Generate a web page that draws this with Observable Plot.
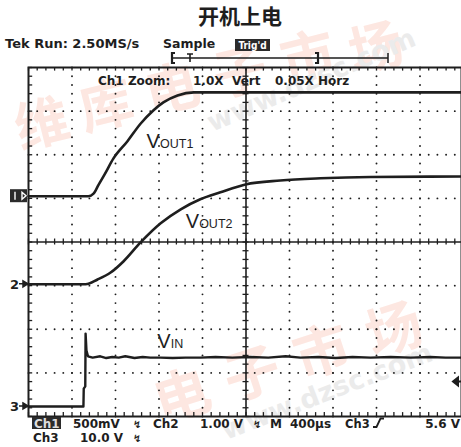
<!DOCTYPE html>
<html>
<head>
<meta charset="utf-8">
<script src="https://cdn.jsdelivr.net/npm/d3@7"></script>
<script src="https://cdn.jsdelivr.net/npm/@observablehq/plot@0.6"></script>
<style>
  html, body { margin: 0; padding: 0; background: #fff; overflow: hidden; }
  #chart svg { display: block; }
</style>
</head>
<body>
<div id="chart"></div>
<script>
// Scope settings: vertical scale and ground marker (in divisions from the bottom edge) per channel
const channels = ["1", "2", "3"];
const voltsPerDiv = [0.5, 1.0, 10.0];
const groundDiv = [5.05, 3.03, 0.23];
const triggerVolts = 5.6;          // Ch3 rising-edge trigger level
const timePerDiv = 400;            // µs

// Traces: time (µs from the left edge of the screen) and level (V)
const vout1Time  = [0, 550, 598, 644, 700, 780, 910, 1030, 1150, 1240, 1370, 1520, 1860, 4000];
const vout1Volts = [0, 0, 0.03, 0.13, 0.25, 0.43, 0.63, 0.83, 0.985, 1.075, 1.155, 1.19, 1.19, 1.19];

const vout2Time  = [0, 525, 635, 755, 875, 1030, 1215, 1400, 1580, 1765, 1995, 2315, 2685, 3145, 4000];
const vout2Volts = [0, 0, 0.11, 0.27, 0.53, 0.96, 1.40, 1.72, 1.95, 2.11, 2.29, 2.38, 2.43, 2.46, 2.47];

const vinTime  = [0, 505, 508, 522, 525, 533, 547, 590, 660, 715, 770, 830, 890, 975, 1050, 1120, 1215, 1325,
                  1445, 1580, 1720, 1875, 2040, 2205, 2365, 2500, 2665, 2825, 2980, 3145, 3330, 3515, 3695, 3835, 4000];
const vinVolts = [0, 0, 4.1, 4.6, 16.7, 12.8, 11.5, 11.2, 11.5, 11.1, 11.35, 11.2, 11.5, 11.1, 11.35, 11.2, 11.2, 11.1,
                  11.2, 11.2, 11.35, 11.2, 11.35, 11.2, 11.5, 11.2, 11.35, 11.1, 11.35, 11.2, 11.35, 11.2, 11.35, 11.2, 11.2];

// Trace labels (position in µs / divisions)
const labelMain = ["V", "V", "V"];
const labelSub  = ["OUT1", "OUT2", "IN"];
const labelTime = [1085, 1445, 1185];
const labelDiv  = [6.15, 4.31, 1.56];

// Screen text
const titleText = "开机上电";
const headerText = ["Tek Run: 2.50MS/s", "Sample", "Trig'd"];
const zoomText = ["Ch1 Zoom:", "1.0X", "Vert", "0.05X Horz"];
const footerText = ["Ch1", "500mV", "Ch2", "1.00 V", "M", "400µs", "Ch3", "5.6 V", "Ch3", "10.0 V"];
const markText = "维库电子市场";
const siteText = "www.dzsc.com";

const ink = "#1e1e1e";
const toDiv = (v, ch) => groundDiv[ch] + v / voltsPerDiv[ch];
const trace = (ts, vs, ch) => ts.map((t, i) => ({t, d: toDiv(vs[i], ch)}));

const vout1 = trace(vout1Time, vout1Volts, 0);
const vout2 = trace(vout2Time, vout2Volts, 1);
const vin   = trace(vinTime, vinVolts, 2);
const labels = labelMain.map((m, i) => ({main: m, sub: labelSub[i], t: labelTime[i], d: labelDiv[i]}));

// Graticule: 10 x 8 divisions with 5 minor steps each
const minorT = d3.range(0, 10 * timePerDiv + 1, timePerDiv / 5);
const minorD = d3.range(0, 8.001, 0.2);
const gridRows = [1, 2, 3, 5, 6, 7];
const gridCols = [1, 2, 3, 4, 6, 7, 8, 9].map(k => k * timePerDiv);
const gridDots = [
  ...gridRows.flatMap(d => minorT.map(t => ({t, d}))),
  ...gridCols.flatMap(t => minorD.map(d => ({t, d})))
];
const tickT = 3 / 43.5 * timePerDiv;  // 3 px in time units
const tickD = 3 / 43.6;               // 3 px in divisions

const chart = Plot.plot({
  width: 461,
  height: 447,
  marginTop: 67, marginBottom: 31, marginLeft: 28, marginRight: 0,
  x: {domain: [0, 10 * timePerDiv], range: [28, 463], axis: null},
  y: {domain: [0, 8], range: [416, 67], axis: null},
  style: {background: "transparent", overflow: "visible", fontFamily: "DejaVu Sans"},
  marks: [
    Plot.dot(gridDots, {x: "t", y: "d", r: 0.95, fill: ink, stroke: null}),
    Plot.ruleY([4], {stroke: ink, strokeWidth: 1.6}),
    Plot.ruleX([5 * timePerDiv], {stroke: ink, strokeWidth: 1.6}),
    Plot.ruleX(minorT, {x: d => d, y1: 4 - tickD, y2: 4 + tickD, stroke: ink, strokeWidth: 1.3}),
    Plot.ruleY(minorD, {y: d => d, x1: 5 * timePerDiv - tickT, x2: 5 * timePerDiv + tickT, stroke: ink, strokeWidth: 1.3}),
    Plot.ruleY(minorD, {y: d => d, x1: 0, x2: tickT * 1.4, stroke: ink, strokeWidth: 1.3}),
    Plot.ruleX(minorT, {x: d => d, y1: 8, y2: 8 - tickD * 1.2, stroke: ink, strokeWidth: 1.3}),
    Plot.ruleX(minorT, {x: d => d, y1: 0, y2: tickD * 1.3, stroke: ink, strokeWidth: 1.3}),
    Plot.frame({stroke: ink, strokeWidth: 2}),
    Plot.line(vout1, {x: "t", y: "d", stroke: ink, strokeWidth: 2.6, curve: "monotone-x"}),
    Plot.line(vout2, {x: "t", y: "d", stroke: ink, strokeWidth: 2.6, curve: "monotone-x"}),
    Plot.line(vin, {x: "t", y: "d", stroke: ink, strokeWidth: 2.4}),
    Plot.text(labels, {x: "t", y: "d", text: "main", textAnchor: "start", lineAnchor: "bottom",
      fontSize: 20, fontFamily: "Liberation Sans", fill: ink}),
    Plot.text(labels, {x: "t", y: "d", text: "sub", textAnchor: "start", lineAnchor: "bottom", dx: 13.5,
      fontSize: 12.5, fontFamily: "Liberation Sans", fill: ink})
  ]
});
document.getElementById("chart").append(chart);

const svg = d3.select(chart);
const xs = chart.scale("x"), ys = chart.scale("y");
const px = t => xs.apply(t), py = d => ys.apply(d);

// Background watermark: faint rotated characters and site address
const wm = svg.insert("g", ":first-child").attr("font-weight", "bold").attr("text-anchor", "middle");
function wmChar(cx, cy, angle, ch, size) {
  wm.append("text").attr("transform", `translate(${cx},${cy}) rotate(${angle})`)
    .attr("dy", "0.35em").attr("font-size", size).attr("fill", "#fde7e1")
    .attr("font-family", "Noto Sans CJK SC").text(ch);
}
[[42, 124], [106, 106], [172, 89], [240, 72], [308, 57], [376, 48]]
  .forEach(([x, y], i) => wmChar(x, y, -14, markText[i], 54));
[[182, 396], [252, 374], [322, 352], [394, 330]]
  .forEach(([x, y], i) => wmChar(x, y, -18, markText[i + 2], 56));
function wmSite(x, y, angle) {
  wm.append("text").attr("transform", `translate(${x},${y}) rotate(${angle})`)
    .attr("text-anchor", "start").attr("font-size", 27).attr("fill", "#ebebeb")
    .attr("font-family", "DejaVu Sans").text(siteText);
}
wmSite(212, 132, -23);
wmSite(226, 440, -21);

// Text helper in pixel space
const txt = (x, y, s, o = {}) => svg.append("text").attr("x", x).attr("y", y)
  .attr("font-family", o.family || "DejaVu Sans").attr("font-weight", o.weight || "bold")
  .attr("font-size", o.size || 12).attr("fill", o.fill || ink)
  .attr("text-anchor", o.anchor || "start").text(s);

// Title and acquisition status
txt(240, 24, titleText, {size: 21, anchor: "middle", family: "Noto Sans CJK SC"});
txt(5, 48, headerText[0], {size: 13});
txt(163, 48, headerText[1], {size: 12.5});
svg.append("rect").attr("x", 235).attr("y", 39).attr("width", 35).attr("height", 12).attr("fill", "#2b2b2b");
txt(252.5, 49, headerText[2], {size: 10, anchor: "middle", fill: "#fff", family: "DejaVu Sans Condensed"});

// Record-position bar with trigger point
const barY = 58;
const trigT = px(0) + 162;
svg.append("path").attr("fill", "none").attr("stroke", ink).attr("stroke-width", 1.5)
  .attr("d", `M172,${barY}H388M388,${barY - 5}V${barY + 5}`);
svg.append("path").attr("fill", "none").attr("stroke", ink).attr("stroke-width", 2.2)
  .attr("d", `M175,${barY - 5}H172V${barY + 5}H175M315,${barY - 5}H318V${barY + 5}H315`);
svg.append("path").attr("fill", "none").attr("stroke", ink).attr("stroke-width", 1.6)
  .attr("d", `M${trigT - 3},${barY - 4}H${trigT + 3}M${trigT},${barY - 4}V${barY + 4}`);

// Zoom readout inside the graticule
txt(98, 85, zoomText[0]);
txt(193, 85, zoomText[1]);
txt(232, 85, zoomText[2]);
txt(275, 85, zoomText[3]);

// Channel ground markers
const g1 = py(groundDiv[0]);
svg.append("rect").attr("x", 10).attr("y", g1 - 6.5).attr("width", 17).attr("height", 13).attr("fill", "#2b2b2b");
svg.append("path").attr("stroke", "#fff").attr("stroke-width", 1.4).attr("fill", "none")
  .attr("d", `M15,${g1 - 4}V${g1 + 4}M22,${g1 - 3.5}L26,${g1}L22,${g1 + 3.5}Z`);
[1, 2].forEach(ch => {
  const gy = py(groundDiv[ch]);
  txt(10, gy + 5, channels[ch], {size: 13});
  svg.append("path").attr("stroke", ink).attr("stroke-width", 1.5).attr("fill", ink)
    .attr("d", `M19,${gy}H24M23,${gy - 3}L28,${gy}L23,${gy + 3}Z`);
});

// Trigger level marker on the right edge
const trigY = py(groundDiv[2] + triggerVolts / voltsPerDiv[2]);
svg.append("path").attr("stroke", ink).attr("stroke-width", 2).attr("fill", ink)
  .attr("d", `M461,${trigY}H457M458,${trigY - 4}L453,${trigY}L458,${trigY + 4}Z`);

// Footer: channel scales, timebase and trigger
svg.append("rect").attr("x", 32).attr("y", 417).attr("width", 29).attr("height", 12).attr("fill", "#2b2b2b");
txt(34, 427.5, footerText[0], {fill: "#ddd"});
txt(73, 428, footerText[1]);
txt(153, 428, footerText[2]);
txt(200, 428, footerText[3]);
txt(270, 428, footerText[4]);
txt(290, 428, footerText[5]);
txt(345, 428, footerText[6], {size: 11.5});
txt(460, 428, footerText[7], {anchor: "end"});
txt(33, 442, footerText[8]);
txt(80, 442, footerText[9]);
// bandwidth-limit glyphs
[[133, 428], [253, 428], [133, 442]].forEach(([x, y]) => txt(x, y, "↯", {size: 10}));
// rising-edge glyph
svg.append("path").attr("fill", "none").attr("stroke", ink).attr("stroke-width", 1.8)
  .attr("d", "M373,427H376.5L380.5,418.5H384");
</script>
</body>
</html>
